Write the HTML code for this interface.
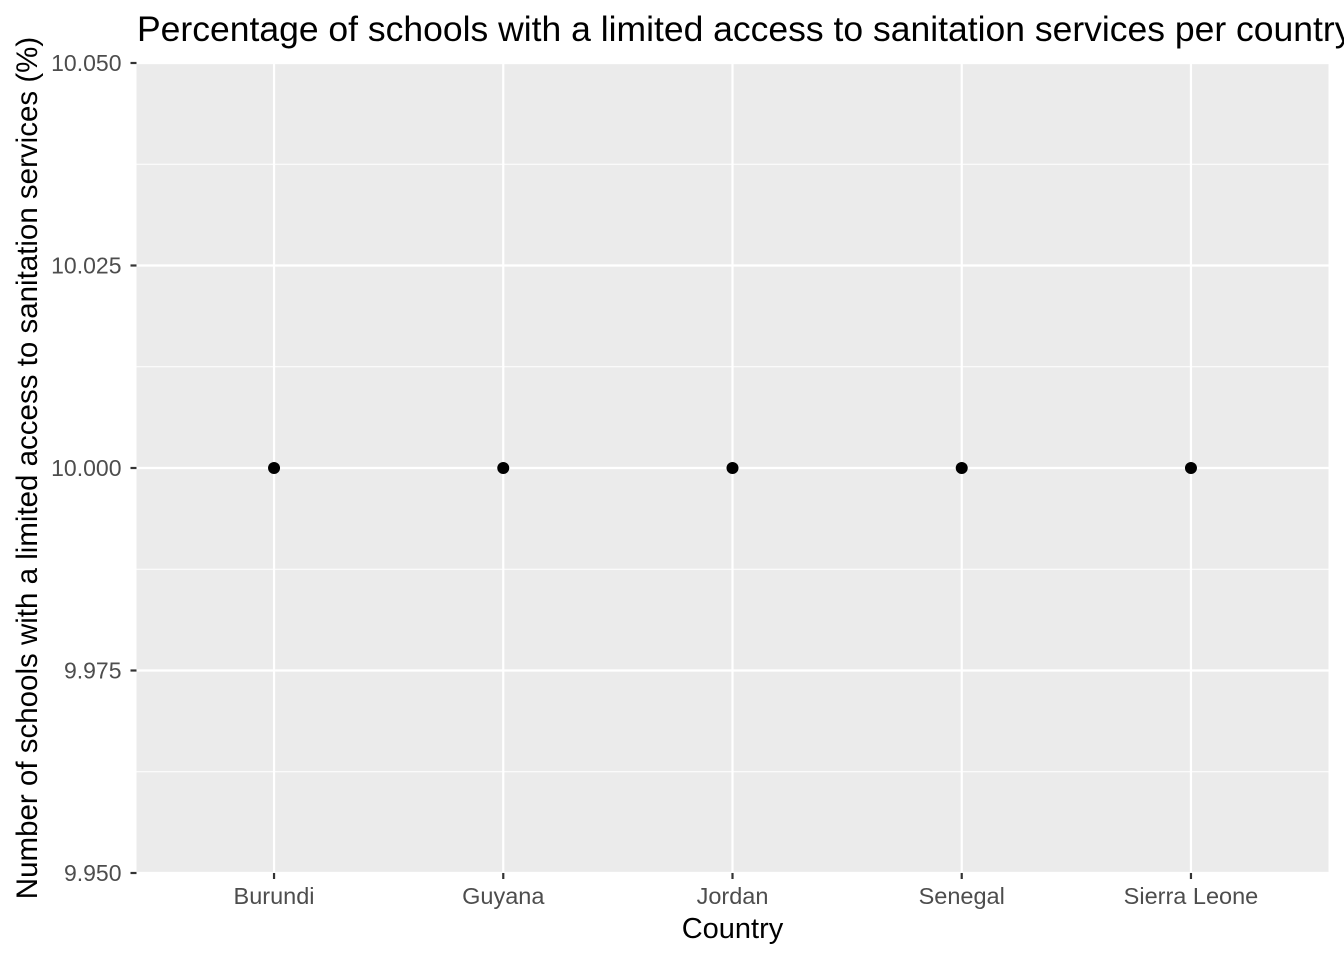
<!DOCTYPE html>
<html><head><meta charset="utf-8"><style>
body{margin:0;background:#fff;}
svg{display:block;font-family:"Liberation Sans",Arial,sans-serif;}
</style></head><body>
<svg id="chart" width="1344" height="960">
<rect x="0" y="0" width="1344" height="960" fill="#fff"/>
<rect x="136.5" y="63" width="1192" height="810" fill="#ebebeb"/>
<g id="grid"></g>
<g id="ticks"></g>
<g id="points"></g>
<text x="137" y="41" font-size="35.5" fill="#000">Percentage of schools with a limited access to sanitation services per country</text>
<text x="732.5" y="938" font-size="29" text-anchor="middle" fill="#000">Country</text>
<text transform="translate(37,468) rotate(-90)" font-size="29.5" text-anchor="middle" fill="#000">Number of schools with a limited access to sanitation services (%)</text>
</svg>
<script>
const categories = ["Burundi","Guyana","Jordan","Senegal","Sierra Leone"];
const values = [10, 10, 10, 10, 10];
const yTicks = [9.95, 9.975, 10, 10.025, 10.05];
const yTickLabels = ["9.950","9.975","10.000","10.025","10.050"];

const NS="http://www.w3.org/2000/svg";
const pLeft=136.5, pRight=1328.5, pTop=63, pBottom=873;
const yMin=9.95, yMax=10.05;
const step=(pRight-pLeft)/(categories.length-1+1.2);
function xPos(i){return pLeft+step*(0.6+i);}
function yPos(v){return pBottom-(v-yMin)/(yMax-yMin)*(pBottom-pTop);}
function mk(tag,attrs,parent){const e=document.createElementNS(NS,tag);for(const k in attrs)e.setAttribute(k,attrs[k]);parent.appendChild(e);return e;}
const grid=document.getElementById('grid'), ticks=document.getElementById('ticks'), pts=document.getElementById('points');

for(let i=0;i<yTicks.length-1;i++){
  const v=(yTicks[i]+yTicks[i+1])/2;
  const l=mk('line',{x1:pLeft,x2:pRight,y1:yPos(v),y2:yPos(v),stroke:'#fff','stroke-width':1.1},grid);
  
  
}
yTicks.forEach((v,i)=>{
  const y=yPos(v);
  const l=mk('line',{x1:pLeft,x2:pRight,y1:y,y2:y,stroke:'#fff','stroke-width':2.2},grid);
  
  
  const t=mk('line',{x1:pLeft-6,x2:pLeft,y1:y,y2:y,stroke:'#333','stroke-width':2.2},ticks);
  
  
  const tx=mk('text',{x:pLeft-15,y:y+8,'font-size':23,'text-anchor':'end',fill:'#4d4d4d'},ticks);
  tx.textContent=yTickLabels[i];
  
  
});
categories.forEach((c,i)=>{
  const x=xPos(i);
  const l=mk('line',{x1:x,x2:x,y1:pTop,y2:pBottom,stroke:'#fff','stroke-width':2.2},grid);
  
  
  const t=mk('line',{x1:x,x2:x,y1:pBottom,y2:pBottom+6,stroke:'#333','stroke-width':2.2},ticks);
  
  
  const tx=mk('text',{x:x,y:904,'font-size':23.5,'text-anchor':'middle',fill:'#4d4d4d'},ticks);
  tx.textContent=c;
  
  
  const p=mk('circle',{cx:x,cy:yPos(values[i]),r:6,fill:'#000'},pts);
  
  
});
</script>
</body></html>
